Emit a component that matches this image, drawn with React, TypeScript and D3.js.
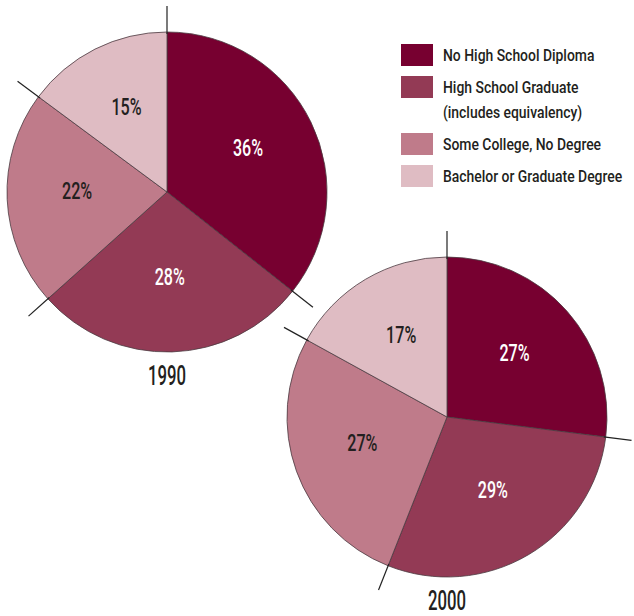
import React, { useEffect } from 'react';
import * as d3 from 'd3';

const categories = [
  ['No High School Diploma'],
  ['High School Graduate', '(includes equivalency)'],
  ['Some College, No Degree'],
  ['Bachelor or Graduate Degree'],
];
const colors = ['#770030', '#933a55', '#bf7b8a', '#dfbcc3'];
const years = ['1990', '2000'];
const values1990 = [36, 28, 22, 15];
const values2000 = [27, 29, 27, 17];

const FONT = "Roboto, 'Liberation Sans', sans-serif";

const R = 160;
const centers = [
  { x: 167, y: 192 },
  { x: 447, y: 417 },
];

interface PieProps {
  values: number[];
  cx: number;
  cy: number;
  year: string;
}

const Pie: React.FC<PieProps> = ({ values, cx, cy, year }) => {
  const pie = d3.pie<number>().sort(null).value(d => d);
  const arcs = pie(values);
  const arc = d3.arc<d3.PieArcDatum<number>>().innerRadius(0).outerRadius(R);
  const labelArc = d3.arc<d3.PieArcDatum<number>>().innerRadius(90).outerRadius(90);

  return (
    <g transform={`translate(${cx},${cy})`}>
      {arcs.map((a, i) => (
        <path key={i} d={arc(a) || ''} fill={colors[i]} stroke="#4a3a40" strokeWidth={0.8} />
      ))}
      {arcs.map((a, i) => {
        // tick line along the start boundary of each slice
        const ang = a.startAngle;
        const x1 = Math.sin(ang) * (R - 2);
        const y1 = -Math.cos(ang) * (R - 2);
        const x2 = Math.sin(ang) * (R + 26);
        const y2 = -Math.cos(ang) * (R + 26);
        return <line key={'t' + i} x1={x1} y1={y1} x2={x2} y2={y2} stroke="#222" strokeWidth={1.2} />;
      })}
      {arcs.map((a, i) => {
        const [x, y] = labelArc.centroid(a);
        return (
          <text
            key={'l' + i}
            transform={`translate(${x},${y - 5}) scale(0.7,1)`}
            dy="0.36em"
            textAnchor="middle"
            fontSize={23}
            fontWeight={500}
            fontFamily={FONT}
            fill={i < 2 ? '#ffffff' : '#231f20'}
          >
            {a.data}%
          </text>
        );
      })}
      <text
        transform={`translate(0,${R + 23}) scale(0.62,1)`}
        dy="0.36em"
        textAnchor="middle"
        fontSize={27}
        fontWeight={500}
        fontFamily={FONT}
        fill="#231f20"
      >
        {year}
      </text>
    </g>
  );
};

const App: React.FC = () => {
  useEffect(() => {
    document.body.style.margin = '0';
  }, []);

  const rowTops: number[] = [];
  let top = 44;
  categories.forEach(lines => {
    rowTops.push(top);
    top += 32 + (lines.length - 1) * 25;
  });

  return (
    <svg width={634} height={616} style={{ display: 'block', background: '#fff' }}>
      <Pie values={values1990} cx={centers[0].x} cy={centers[0].y} year={years[0]} />
      <Pie values={values2000} cx={centers[1].x} cy={centers[1].y} year={years[1]} />
      <g>
        {categories.map((lines, i) => (
          <g key={i} transform={`translate(401,${rowTops[i]})`}>
            <rect width={32} height={22} fill={colors[i]} />
            {lines.map((ln, j) => (
              <text
                key={j}
                transform={`translate(42,${11 + j * 25}) scale(0.87,1)`}
                dy="0.36em"
                fontSize={16}
                fontWeight={500}
                fontFamily={FONT}
                fill="#231f20"
              >
                {ln}
              </text>
            ))}
          </g>
        ))}
      </g>
    </svg>
  );
};

export default App;
